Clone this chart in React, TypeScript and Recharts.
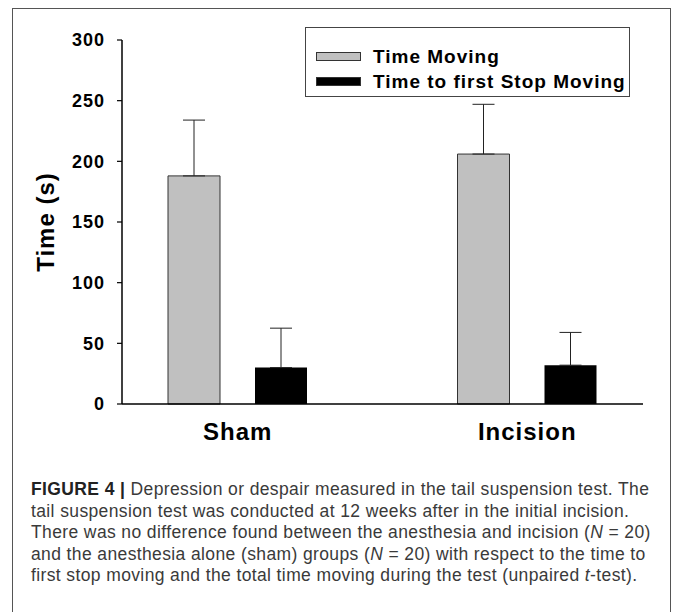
import { BarChart, Bar, XAxis, YAxis, ErrorBar, Legend } from "recharts";

// groups on the x axis
const categories = ["Sham", "Incision"];
// mean time moving (s) and its SEM (upper whisker only)
const timeMoving = [188, 206];
const timeMovingErr = [46, 41];
// time to first stop moving (s) and its SEM
const firstStop = [30, 32];
const firstStopErr = [32.5, 27];
const yTicks = [0, 50, 100, 150, 200, 250, 300];

const captionLines = [
  "Depression or despair measured in the tail suspension test. The",
  "tail suspension test was conducted at 12 weeks after in the initial incision.",
  "There was no difference found between the anesthesia and incision (N = 20)",
  "and the anesthesia alone (sham) groups (N = 20) with respect to the time to",
  "first stop moving and the total time moving during the test (unpaired t-test).",
];

const rows = categories.map((name, i) => ({
  name,
  moving: timeMoving[i],
  movingErr: [0, timeMovingErr[i]],
  stop: firstStop[i],
  stopErr: [0, firstStopErr[i]],
}));

const FONT = '"Liberation Sans", Arial, sans-serif';

// italic N / t in the caption
function renderCaptionLine(line: string) {
  const parts = line.split(/(\(N|\(unpaired t)/);
  return parts.map((p, i) => {
    if (p === "(N") return <span key={i}>(<i>N</i></span>;
    if (p === "(unpaired t") return <span key={i}>(unpaired <i>t</i></span>;
    return <span key={i}>{p}</span>;
  });
}

function LegendBox({ payload }: any) {
  return (
    <div
      style={{
        boxSizing: "border-box",
        width: 325,
        height: 70,
        border: "1px solid #444",
        background: "#fff",
        paddingTop: 16,
        paddingLeft: 10,
        fontFamily: FONT,
        fontWeight: "bold",
        fontSize: 19,
        letterSpacing: 1,
        color: "#000",
      }}
    >
      {(payload || []).map((p: any, i: number) => (
        <div key={i} style={{ display: "flex", alignItems: "center", height: 25 }}>
          <span
            style={{
              display: "inline-block",
              boxSizing: "border-box",
              width: 45,
              height: 9,
              background: p.color,
              border: "1px solid #333",
              marginRight: 12,
            }}
          />
          <span>{p.value}</span>
        </div>
      ))}
    </div>
  );
}

export default function App() {
  return (
    <div
      style={{
        position: "absolute",
        left: 0,
        top: 0,
        width: 673,
        height: 612,
        overflow: "hidden",
        background: "#fff",
      }}
    >
      <div
        style={{
          position: "absolute",
          left: 12,
          top: 8,
          width: 657,
          height: 640,
          border: "1.5px solid #555",
        }}
      />
      <div style={{ position: "absolute", left: 0, top: 0 }}>
        <BarChart
          width={673}
          height={470}
          data={rows}
          margin={{ top: 40, right: 30, bottom: 16, left: 0 }}
          barSize={52}
          barGap={35}
        >
          <XAxis
            dataKey="name"
            padding={{ left: -29, right: -29 }}
            axisLine={{ stroke: "#000", strokeWidth: 1.5 }}
            tickLine={false}
            tickSize={0}
            tickMargin={19}
            height={50}
            tick={{ fill: "#000", fontSize: 24, fontWeight: "bold", fontFamily: FONT, letterSpacing: 1 }}
          />
          <YAxis
            width={122}
            domain={[0, 300]}
            ticks={yTicks}
            interval={0}
            axisLine={{ stroke: "#000", strokeWidth: 1.5 }}
            tickLine={{ stroke: "#000", strokeWidth: 1.2 }}
            tickSize={5}
            tickMargin={12}
            tick={{ fill: "#000", fontSize: 18, fontWeight: "bold", fontFamily: FONT, letterSpacing: 1 }}
            label={{
              content: () => (
                <text
                  x={54}
                  y={222}
                  transform="rotate(-90, 54, 222)"
                  textAnchor="middle"
                  fill="#000"
                  fontSize={24}
                  fontWeight="bold"
                  fontFamily={FONT}
                  letterSpacing={1}
                >
                  Time (s)
                </text>
              ),
            }}
          />
          <Legend
            layout="vertical"
            align="center"
            verticalAlign="middle"
            content={<LegendBox />}
            wrapperStyle={{ left: 305, top: 27, width: 325, height: 70 }}
          />
          <Bar
            dataKey="moving"
            name="Time Moving"
            fill="#c0c0c0"
            stroke="#333"
            strokeWidth={1}
            isAnimationActive={false}
          >
            <ErrorBar dataKey="movingErr" direction="y" width={11} stroke="#222" strokeWidth={1} />
          </Bar>
          <Bar
            dataKey="stop"
            name="Time to first Stop Moving"
            fill="#000"
            isAnimationActive={false}
          >
            <ErrorBar dataKey="stopErr" direction="y" width={11} stroke="#222" strokeWidth={1} />
          </Bar>
        </BarChart>
      </div>
      <div
        style={{
          position: "absolute",
          left: 31,
          top: 479,
          fontFamily: FONT,
          fontSize: 17.5,
          letterSpacing: 0.38,
          lineHeight: "21.6px",
          color: "#3a3a3a",
          whiteSpace: "nowrap",
        }}
      >
        {captionLines.map((line, i) => (
          <div key={i}>
            {i === 0 && <b style={{ color: "#222" }}>FIGURE 4 | </b>}
            {renderCaptionLine(line)}
          </div>
        ))}
      </div>
    </div>
  );
}
